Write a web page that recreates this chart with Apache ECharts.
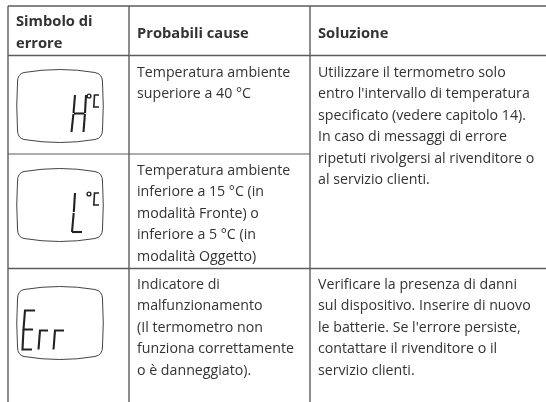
<!DOCTYPE html>
<html>
<head>
<meta charset="utf-8">
<style>html,body{margin:0;padding:0;background:#fff}#main{width:546px;height:402px}</style>
<script src="https://cdn.jsdelivr.net/npm/echarts@6/dist/echarts.min.js"></script>
</head>
<body>
<div id="main"></div>
<script>
// table text
const headers = ['Probabili cause', 'Soluzione'];
const headerFirst = ['Simbolo di', 'errore'];
const causes = [
  ['Temperatura ambiente', 'superiore a 40 °C'],
  ['Temperatura ambiente', 'inferiore a 15 °C (in', 'modalità Fronte) o', 'inferiore a 5 °C (in', 'modalità Oggetto)'],
  ['Indicatore di', 'malfunzionamento', '(Il termometro non', 'funziona correttamente', 'o è danneggiato).']
];
const solutions = [
  ['Utilizzare il termometro solo', "entro l'intervallo di temperatura", 'specificato (vedere capitolo 14).', 'In caso di messaggi di errore', 'ripetuti rivolgersi al rivenditore o', 'al servizio clienti.'],
  ['Verificare la presenza di danni', 'sul dispositivo. Inserire di nuovo', "le batterie. Se l'errore persiste,", 'contattare il rivenditore o il', 'servizio clienti.']
];

const FONT = '"Open Sans", sans-serif';
const TEXT = '#333333';
const RULE = '#5c5c5c';
const PITCH = 21.4;

const els = [];

function line(x1, y1, x2, y2, w) {
  els.push({ type: 'line', shape: { x1, y1, x2, y2 }, style: { stroke: RULE, lineWidth: w || 1.2 }, silent: true });
}
function block(lines, x, y, bold) {
  lines.forEach((t, i) => els.push({
    type: 'text', x, y: y + i * PITCH,
    style: { text: t, fill: TEXT, font: (bold ? 'bold 14.7px ' : '14.2px ') + FONT, textVerticalAlign: 'middle' }
  }));
}
function seg(pts, w) {
  els.push({ type: 'polyline', shape: { points: pts }, style: { fill: 'none', stroke: '#222', lineWidth: w || 2.1, lineCap: 'butt' } });
}
function degC(x, y) {
  els.push({ type: 'circle', shape: { cx: x, cy: y, r: 1.9 }, style: { fill: 'none', stroke: '#222', lineWidth: 1.4 } });
  seg([[x + 10, y - 1], [x + 5.5, y - 1], [x + 4.8, y + 11], [x + 10, y + 11]], 1.6);
}

// table rules
line(8, 6, 546, 6, 1.4);
line(8, 55.5, 546, 55.5, 1.4);
line(8, 154, 310, 154, 1.2);
line(8, 268.5, 546, 268.5, 1.6);
line(8, 6, 8, 402, 1.4);
line(129, 6, 129, 402, 1.4);
line(310, 6, 310, 402, 1.4);

// header
block(headerFirst, 16, 22.3, true);
block(headers.slice(0, 1), 137, 33.5, true);
block(headers.slice(1), 318, 33.5, true);

// body
block(causes[0], 137, 73);
block(causes[1], 137, 171);
block(causes[2], 137, 285);
block(solutions[0], 318, 73);
block(solutions[1], 318, 285);

// H
seg([[75, 95], [73.5, 113]]);
seg([[73.4, 114], [71.5, 132]]);
seg([[86, 95], [85, 113]]);
seg([[84.9, 114], [83.5, 132]]);
seg([[74, 113.5], [84.5, 113.5]]);
degC(89, 96);

// L
seg([[75, 193], [73.8, 212]]);
seg([[73.7, 213], [72, 232]]);
seg([[72, 232], [82, 232]]);
degC(89, 194);

// Err
seg([[35, 310.5], [25, 310.5], [23.5, 329.5], [33, 329.5]]);
seg([[23.5, 329.5], [22.5, 349.5], [32, 349.5]]);
seg([[48, 330.5], [40, 330.5], [38.5, 349.5]]);
seg([[64, 330.5], [55, 330.5], [53.5, 349.5]]);

// lcd outlines: graphic has no path type, so these go through a custom series
const BEZEL = 'M24 72.5 Q60 66.5 95 72.5 Q102.5 74 102.5 82 Q104 106 102.5 130 Q102.5 138 95 139.5 Q60 145.5 24 139.5 Q17.5 138 17.5 130 Q16 106 17.5 82 Q17.5 74 24 72.5 Z';
const bezelShift = [0, 99, 217];

const chart = echarts.init(document.getElementById('main'));
chart.setOption({
  backgroundColor: '#ffffff',
  animation: false,
  graphic: { elements: els },
  series: [{
    type: 'custom',
    coordinateSystem: 'none',
    silent: true,
    data: bezelShift,
    renderItem: (params, api) => ({
      type: 'path',
      y: api.value(0),
      shape: { pathData: BEZEL },
      style: { fill: 'none', stroke: '#444', lineWidth: 1 }
    })
  }]
});
</script>
</body>
</html>
